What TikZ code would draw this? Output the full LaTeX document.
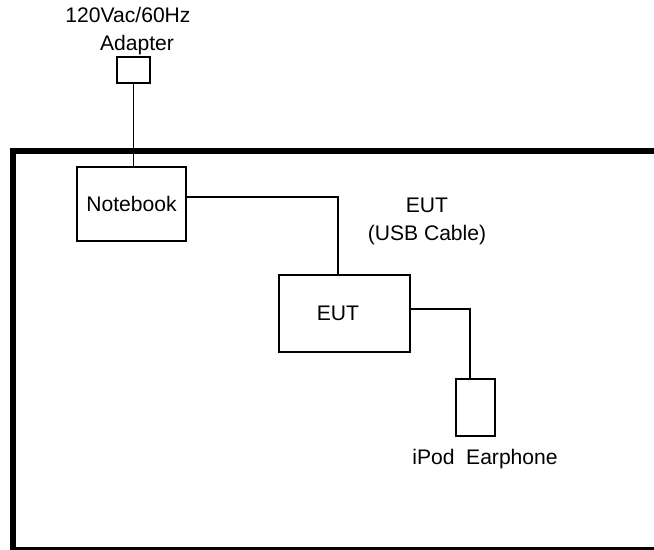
\documentclass[tikz,border=0pt]{standalone}
\usepackage{fontspec}
\setmainfont{Liberation Sans}
\usetikzlibrary{positioning}

\begin{document}
\begin{tikzpicture}[x=0.02cm, y=-0.02cm, font=\fontsize{12}{16}\selectfont, box/.style={draw, rectangle, line width=0.9pt, inner sep=0pt}, wire/.style={line width=0.9pt}, frame/.style={line width=2.9pt}]
    \clip (0,0) rectangle (654,550);
    % Test site
    \draw[frame] (13,151) rectangle (700,550);

    % Units
    \node[box, minimum width=0.66cm, minimum height=0.52cm] (adapter) at (133.5,70) {};
    \node[align=center] (adaptertxt) at (128,31) {120Vac/60Hz\\\hspace*{0.36cm}Adapter};
    \node[box, minimum width=2.18cm, minimum height=1.48cm] (notebook) at (131.5,204) {Notebook};
    \node[box, minimum width=2.62cm, minimum height=1.54cm] (eut) at (344.5,313.5) {\hspace*{-0.26cm}EUT};
    \node[align=center] (euttxt) at (427,221) {EUT\\(USB Cable)};
    \node[box, minimum width=0.78cm, minimum height=1.14cm] (earphone) at (475.5,407.5) {};
    \node[below=0.12cm of earphone, xshift=0.19cm] (earphonetxt) {iPod\ \ Earphone};

    % Cables
    \draw[wire] (adapter.south) -- (adapter.south |- notebook.north);
    \draw[wire] ([yshift=0.14cm]notebook.east) -| ([xshift=-0.13cm]eut.north);
    \draw[wire] ([yshift=0.09cm]eut.east) -| ([xshift=-0.11cm]earphone.north);
\end{tikzpicture}
\end{document}
